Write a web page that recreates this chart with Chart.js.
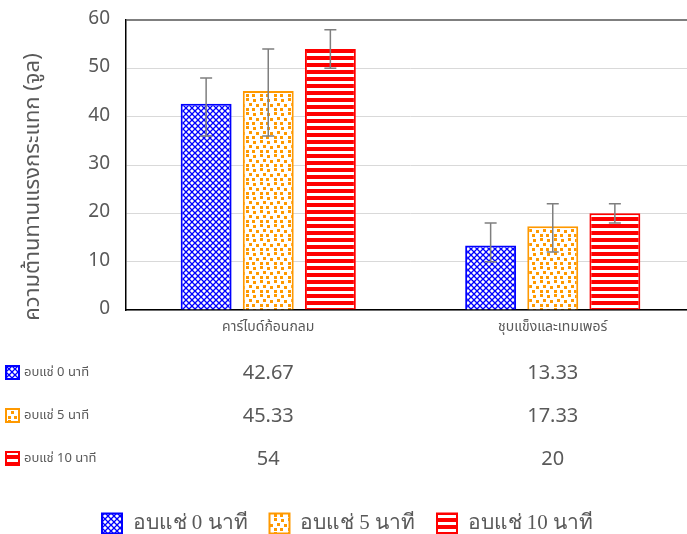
<!DOCTYPE html>
<html>
<head>
<meta charset="utf-8">
<script src="https://cdn.jsdelivr.net/npm/chart.js@4"></script>
<style>
html,body{margin:0;padding:0;background:#fff;overflow:hidden;}
#wrap{position:absolute;left:0;top:0;width:695px;height:534px;}
</style>
</head>
<body>
<div id="wrap"><canvas id="c"></canvas></div>
<script>
const categories = ['คาร์ไบด์ก้อนกลม', 'ชุบแข็งและเทมเพอร์'];
const seriesNames = ['อบแช่ 0 นาที', 'อบแช่ 5 นาที', 'อบแช่ 10 นาที'];
const soak0 = [42.67, 13.33];
const soak5 = [45.33, 17.33];
const soak10 = [54, 20];
const err0 = [[36, 48], [10, 18]];
const err5 = [[36, 54], [12, 22]];
const err10 = [[50, 58], [18, 22]];
const tableLabels = [['42.67', '13.33'], ['45.33', '17.33'], ['54', '20']];
const yTitle = 'ความต้านทานแรงกระแทก (จูล)';

const THAI = "'Noto Sans Thai','Noto Sans','Liberation Sans','DejaVu Sans',sans-serif";

function makeTile(w, h, draw) {
  const c = document.createElement('canvas');
  c.width = w; c.height = h;
  const x = c.getContext('2d');
  x.fillStyle = '#fff'; x.fillRect(0, 0, w, h);
  draw(x);
  return document.getElementById('c').getContext('2d').createPattern(c, 'repeat');
}
const bluePat = makeTile(6, 6, x => {
  x.strokeStyle = '#0000ff'; x.lineWidth = 1.3;
  x.beginPath();
  x.moveTo(0, 0); x.lineTo(6, 6);
  x.moveTo(6, 0); x.lineTo(0, 6);
  x.stroke();
  x.fillStyle = '#0000ff';
  x.fillRect(0, 0, 1, 1);
});
const orangePat = makeTile(14, 14, x => {
  x.fillStyle = '#ff9900';
  [[1,1],[8,0],[4,6],[11,5],[0,10],[8,10]].forEach(p => x.fillRect(p[0], p[1], 3, 3));
});
const redPat = makeTile(4, 7, x => {
  x.fillStyle = '#ff0000';
  x.fillRect(0, 0, 4, 4);
});

const errors = [err0, err5, err10];

const errorBarPlugin = {
  id: 'errbars',
  afterDatasetsDraw(chart) {
    const ctx = chart.ctx;
    const y = chart.scales.y;
    ctx.save();
    ctx.strokeStyle = '#7f7f7f';
    ctx.lineWidth = 1.5;
    chart.data.datasets.forEach((ds, di) => {
      const meta = chart.getDatasetMeta(di);
      meta.data.forEach((bar, i) => {
        const e = errors[di][i];
        const x = bar.x;
        const y1 = y.getPixelForValue(e[0]);
        const y2 = y.getPixelForValue(e[1]);
        ctx.beginPath();
        ctx.moveTo(x, y1); ctx.lineTo(x, y2);
        ctx.moveTo(x - 6, y1); ctx.lineTo(x + 6, y1);
        ctx.moveTo(x - 6, y2); ctx.lineTo(x + 6, y2);
        ctx.stroke();
      });
    });
    ctx.restore();
  }
};

const tablePlugin = {
  id: 'datatable',
  afterDraw(chart) {
    const ctx = chart.ctx;
    const xs = chart.scales.x;
    const base = chart.chartArea.bottom;
    const rowsY = [63, 106, 149];
    ctx.save();
    ctx.save();
    ctx.translate(35, 187);
    ctx.rotate(-Math.PI / 2);
    ctx.fillStyle = '#595959';
    ctx.font = "22px " + THAI;
    ctx.textAlign = 'center';
    ctx.textBaseline = 'middle';
    ctx.fillText(yTitle, 0, 0);
    ctx.restore();
    chart.data.datasets.forEach((ds, di) => {
      const cy = base + rowsY[di];
      ctx.fillStyle = ds.backgroundColor;
      ctx.fillRect(6, cy - 7, 13, 13);
      ctx.strokeStyle = ds.borderColor;
      ctx.lineWidth = 2;
      ctx.strokeRect(6, cy - 7, 13, 13);
      ctx.fillStyle = '#595959';
      ctx.font = "13px " + THAI;
      ctx.textAlign = 'left';
      ctx.textBaseline = 'middle';
      ctx.fillText(seriesNames[di], 24, cy);
      ctx.font = "20px " + THAI;
      ctx.textAlign = 'center';
      categories.forEach((c, i) => {
        ctx.fillText(tableLabels[di][i], xs.getPixelForValue(i), cy + 2);
      });
    });
    ctx.restore();
  }
};

new Chart(document.getElementById('c'), {
  type: 'bar',
  data: {
    labels: categories,
    datasets: [
      { label: seriesNames[0], data: soak0, backgroundColor: bluePat, borderColor: '#0000ff', borderWidth: 2 },
      { label: seriesNames[1], data: soak5, backgroundColor: orangePat, borderColor: '#ff9900', borderWidth: 2 },
      { label: seriesNames[2], data: soak10, backgroundColor: redPat, borderColor: '#ff0000', borderWidth: 2 }
    ]
  },
  options: {
    responsive: true,
    maintainAspectRatio: false,
    animation: false,
    layout: { padding: { top: 20, right: 0, left: 0, bottom: -10 } },
    datasets: { bar: { barPercentage: 0.82, categoryPercentage: 0.655 } },
    plugins: {
      tooltip: { enabled: false },
      legend: {
        position: 'bottom',
        labels: {
          boxWidth: 20, boxHeight: 20, padding: 22,
          color: '#595959',
          font: { size: 21, family: "'Liberation Serif','DejaVu Serif',serif" }
        }
      }
    },
    scales: {
      x: {
        grid: { display: false, drawTicks: false },
        border: { color: '#000', width: 1.5 },
        ticks: { color: '#595959', font: { size: 14, family: THAI }, padding: 10 },
        afterFit(s) { s.height = 181; s.paddingLeft = 0; s.paddingRight = 0; }
      },
      y: {
        min: 0, max: 60,
        ticks: { stepSize: 10, color: '#595959', font: { size: 19, family: THAI }, padding: 16 },
        grid: {
          drawTicks: false,
          color: ctx => ctx.tick && ctx.tick.value === 60 ? '#7f7f7f' : '#d9d9d9',
          lineWidth: ctx => ctx.tick && ctx.tick.value === 60 ? 2 : 1
        },
        border: { color: '#000', width: 1.5 },
        afterFit(s) { s.width = 126; s.paddingTop = 0; s.paddingBottom = 0; }
      }
    }
  },
  plugins: [errorBarPlugin, tablePlugin]
});
</script>
</body>
</html>
